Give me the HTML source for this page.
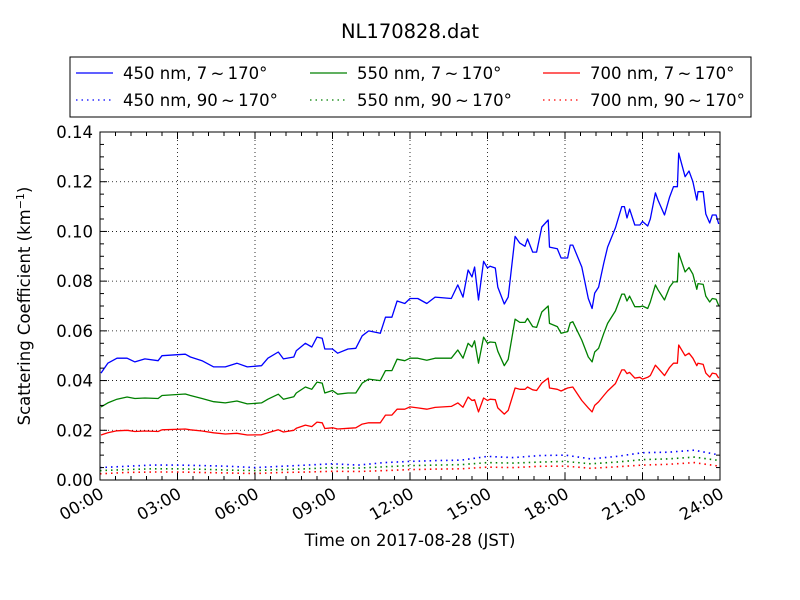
<!DOCTYPE html>
<html><head><meta charset="utf-8"><style>
html,body{margin:0;padding:0;background:#fff;}
svg{display:block;font-family:"DejaVu Sans","Liberation Sans",sans-serif;}
</style></head><body>
<svg id="chart" width="800" height="600" viewBox="0 0 800 600">
<rect x="0" y="0" width="800" height="600" fill="#fff"/>
<text x="410" y="38" font-size="19.5" text-anchor="middle">NL170828.dat</text>
<g id="grid"></g>
<g id="series"></g>
<rect x="100" y="132" width="620" height="348" fill="none" stroke="#000" stroke-width="1"/>
<g id="ticks"></g>
<text x="410" y="546" font-size="16.5" text-anchor="middle">Time on 2017-08-28 (JST)</text>
<text transform="translate(30,306) rotate(-90)" font-size="16.5" text-anchor="middle">Scattering Coefficient (km<tspan font-size="11" dy="-6">−1</tspan><tspan dy="6">)</tspan></text>
<g id="legend">
<rect x="70" y="57" width="681" height="60" fill="#fff" stroke="#000" stroke-width="1"/>
</g>
</svg>
<script>
const times=[0.04,0.3,0.66,1.05,1.35,1.74,2.25,2.4,3.3,3.5,3.95,4.4,4.85,5.3,5.7,6.25,6.5,6.9,7.1,7.5,7.6,7.95,8.2,8.4,8.6,8.7,9.0,9.2,9.6,9.9,10.15,10.4,10.85,11.05,11.3,11.5,11.8,12.0,
12.3,12.65,12.97,13.6,13.85,14.05,14.25,14.4,14.5,14.65,14.85,15.0,15.1,15.3,15.4,15.65,15.8,16.07,16.25,16.45,16.55,16.75,16.9,17.1,17.35,17.4,17.7,17.85,18.1,18.2,18.3,18.65,18.9,19.05,19.15,19.3,19.5,19.65,19.95,20.2,20.3,20.4,20.5,20.7,20.9,21.0,21.2,21.3,21.5,21.6,21.85,22.05,22.2,22.35,22.4,22.65,22.8,22.95,23.1,23.15,23.35,23.45,23.6,23.7,23.85,23.95];
const blue450=[.043,.047,.049,.049,.0475,.0487,.048,.050,.0506,.0495,.048,.0455,.0455,.047,.0455,.046,.049,.0515,.0487,.0495,.052,.055,.0535,.0575,.057,.0527,.0527,.051,.0527,.053,.058,.060,.059,.0655,.0655,.072,.071,.073,
.073,.071,.0736,.073,.0785,.0736,.0845,.0817,.0857,.0724,.088,.0853,.086,.0853,.0776,.0708,.0736,.098,.0953,.094,.097,.0917,.0917,.1018,.1046,.0937,.093,.0893,.0893,.0945,.0945,.0857,.073,.069,.0752,.0776,.0873,.0937,.1014,.11,.11,.1054,.109,.1026,.1026,.104,.1022,.105,.1155,.1126,.1066,.1138,.118,.118,.1315,.122,.1243,.12,.1126,.116,.116,.107,.1034,.1066,.1066,.103];
const green550=[.0294,.031,.0325,.0334,.0328,.033,.0328,.034,.0346,.034,.0328,.0315,.031,.0318,.0306,.031,.0325,.0345,.0325,.0335,.035,.0374,.0365,.0394,.039,.035,.036,.0345,.035,.035,.039,.0406,.040,.044,.044,.0486,.048,.049,
.049,.0482,.049,.049,.0523,.049,.055,.0535,.056,.047,.0575,.055,.0555,.0553,.0518,.046,.0485,.0647,.0634,.0634,.065,.0617,.0614,.0676,.070,.063,.0617,.059,.0597,.0632,.0637,.0563,.0495,.0475,.0515,.053,.059,.063,.068,.0748,.0748,.072,.074,.0697,.0697,.070,.069,.0716,.0785,.0765,.0724,.0776,.0797,.0797,.0913,.0837,.0855,.0828,.0767,.079,.0787,.074,.0716,.073,.0727,.0702];
const red700=[.0181,.019,.0198,.020,.0195,.0197,.0195,.0202,.0205,.0202,.0197,.019,.0185,.0188,.0181,.0182,.019,.0202,.0193,.020,.0208,.0221,.0215,.0233,.023,.0207,.021,.0205,.0208,.021,.0225,.023,.023,.0261,.0261,.0285,.0285,.0294,
.029,.0285,.0292,.0296,.031,.0293,.0334,.032,.0323,.0274,.033,.032,.0325,.0323,.029,.0265,.028,.037,.0365,.0365,.0374,.0363,.036,.039,.041,.037,.0365,.0358,.037,.0372,.0374,.032,.029,.0274,.030,.0314,.034,.0358,.0388,.0443,.0443,.0428,.0433,.041,.0413,.0406,.0413,.042,.0462,.045,.042,.0453,.047,.047,.0543,.050,.051,.049,.046,.047,.0465,.043,.0414,.043,.0427,.041];
const dotTimes=[0,1,2,3,4,5,6,7,8,9,10,11,12,13,14,15,16,17,18,19,20,21,22,23,24];
const blue450b=[.005,.0055,.006,.006,.0058,.0055,.005,.0055,.006,.0065,.006,.007,.0075,.0078,.008,.0095,.009,.0098,.010,.0085,.0095,.011,.0112,.012,.010];
const green550b=[.0038,.0042,.0045,.0045,.0043,.004,.0038,.0042,.0045,.005,.0048,.0053,.0058,.006,.0062,.007,.0068,.0072,.0075,.0065,.0072,.0082,.0085,.0092,.0078];
const red700b=[.0025,.003,.0032,.0032,.003,.0028,.0026,.003,.0032,.0035,.0034,.0038,.0042,.0044,.0045,.0052,.005,.0055,.0056,.0047,.0053,.006,.0063,.007,.0055];
const yTickLabels=["0.00","0.02","0.04","0.06","0.08","0.10","0.12","0.14"];
const xTickLabels=["00:00","03:00","06:00","09:00","12:00","15:00","18:00","21:00","24:00"];

const NS="http://www.w3.org/2000/svg";
const X0=100,X1=720,Y0=480,Y1=132;
const xs=h=>X0+(h/24)*(X1-X0);
const ys=v=>Y0-(v/0.14)*(Y0-Y1);
function mk(tag,attrs,parent){const e=document.createElementNS(NS,tag);for(const k in attrs)e.setAttribute(k,attrs[k]);parent.appendChild(e);return e;}
const grid=document.getElementById('grid'),ticks=document.getElementById('ticks'),series=document.getElementById('series');

yTickLabels.forEach((lab,i)=>{
  const v=parseFloat(lab),y=ys(v);
  if(i>0&&i<yTickLabels.length-1){const g=mk('line',{x1:X0,x2:X1,y1:y,y2:y,stroke:'#000','stroke-width':0.8,'stroke-dasharray':'1,3'},grid);
  
  }
  mk('line',{x1:X0,x2:X0+7,y1:y,y2:y,stroke:'#000'},ticks);
  mk('line',{x1:X1-7,x2:X1,y1:y,y2:y,stroke:'#000'},ticks);
  const t=mk('text',{x:93,y:y+6,'font-size':16.5,'text-anchor':'end'},ticks);
  t.textContent=lab;
  
  
});
for(let i=0;i<=28;i++){if(i%4===0)continue;const y=ys(i*0.005);
  mk('line',{x1:X0,x2:X0+4,y1:y,y2:y,stroke:'#000'},ticks);
  mk('line',{x1:X1-4,x2:X1,y1:y,y2:y,stroke:'#000'},ticks);}
xTickLabels.forEach((lab,i)=>{
  const h=i*3,x=xs(h);
  if(i>0&&i<xTickLabels.length-1){const g=mk('line',{x1:x,x2:x,y1:Y1,y2:Y0,stroke:'#000','stroke-width':0.8,'stroke-dasharray':'1,3'},grid);
  
  }
  mk('line',{x1:x,x2:x,y1:Y0,y2:Y0-7,stroke:'#000'},ticks);
  mk('line',{x1:x,x2:x,y1:Y1,y2:Y1+7,stroke:'#000'},ticks);
  const t=mk('text',{x:0,y:0,'font-size':16.5,'text-anchor':'end',transform:`translate(${x+5},${Y0+17}) rotate(-30)`},ticks);
  t.textContent=lab;
  
  
});
for(let i=0;i<=40;i++){if(i%5===0)continue;const x=xs(i*0.6);
  mk('line',{x1:x,x2:x,y1:Y0,y2:Y0-4,stroke:'#000'},ticks);
  mk('line',{x1:x,x2:x,y1:Y1,y2:Y1+4,stroke:'#000'},ticks);}

function drawLine(tx,vals,color,dotted,name){
  const pts=tx.map((h,i)=>xs(h).toFixed(1)+','+ys(vals[i]).toFixed(1)).join(' ');
  const attrs={points:pts,fill:'none',stroke:color,'stroke-width':dotted?1.6:1.3,'stroke-linejoin':'round'};
  if(dotted)attrs['stroke-dasharray']='1.5,4';
  const p=mk('polyline',attrs,series);
  
  
}
drawLine(times,blue450,'#0000ff',false,'series-450-7-170');
drawLine(times,green550,'#008000',false,'series-550-7-170');
drawLine(times,red700,'#ff0000',false,'series-700-7-170');
drawLine(dotTimes,blue450b,'#0000ff',true,'series-450-90-170');
drawLine(dotTimes,green550b,'#008000',true,'series-550-90-170');
drawLine(dotTimes,red700b,'#ff0000',true,'series-700-90-170');

const leg=document.getElementById('legend');
const legendLabels=[["450 nm, 7","#0000ff",false],["550 nm, 7","#008000",false],["700 nm, 7","#ff0000",false],["450 nm, 90","#0000ff",true],["550 nm, 90","#008000",true],["700 nm, 90","#ff0000",true]];
const colX=[76,310,543];
legendLabels.forEach((e,i)=>{
  const c=i%3,r=Math.floor(i/3),lx=colX[c],ly=r===0?73:100;
  const g=mk('g',{},leg);
  
  
  const a={x1:lx,x2:lx+37,y1:ly,y2:ly,stroke:e[1],'stroke-width':1.3};
  if(e[2])a['stroke-dasharray']='1.5,4';
  mk('line',a,g);
  const t=mk('text',{x:lx+47,y:ly+6,'font-size':16.5},g);
  t.textContent=e[0]+"\u2009~\u2009170°";
});
</script>
</body></html>
